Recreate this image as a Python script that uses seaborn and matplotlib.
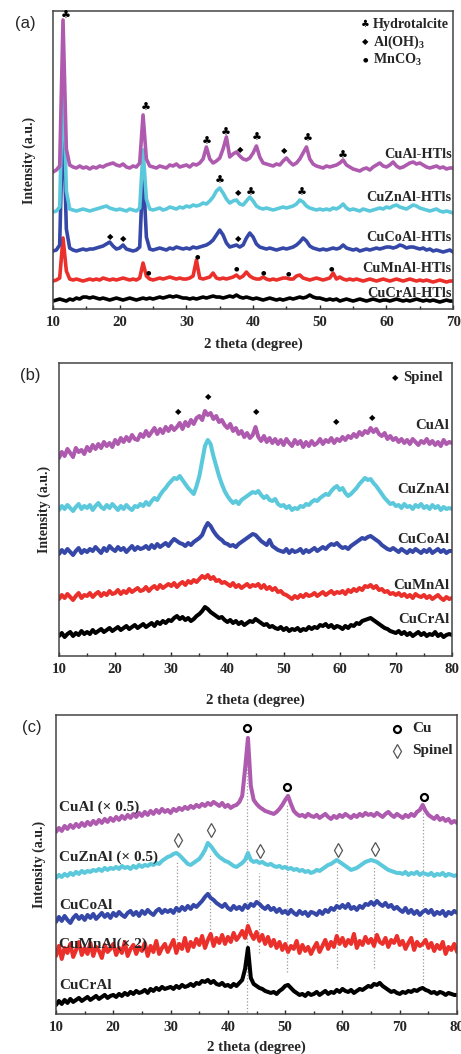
import numpy as np
import seaborn as sns
import matplotlib.pyplot as plt

# heights are in arbitrary intensity units (offset-stacked patterns)
two_theta_a = np.arange(10, 70.01, 0.5)
two_theta_bc = np.arange(10, 80.01, 0.5)

# ---- (a) hydrotalcite-like precursors ----
cual_htls = [137, 139, 143, 289, 160, 144, 142, 141, 143, 141,
             142, 140, 142, 141, 143, 142, 144, 145, 146, 144,
             143, 145, 142, 141, 143, 142, 146, 194, 150, 143,
             142, 141, 143, 142, 141, 144, 143, 145, 142, 143,
             144, 142, 145, 144, 146, 150, 162, 150, 146, 148,
             151, 160, 172, 152, 155, 157, 153, 150, 149, 151,
             156, 163, 152, 146, 145, 144, 143, 145, 144, 148,
             151, 147, 144, 146, 150, 156, 162, 150, 145, 143,
             142, 141, 143, 142, 143, 144, 146, 149, 144, 142,
             140, 139, 138, 140, 141, 139, 142, 144, 146, 143,
             142, 144, 147, 143, 141, 142, 144, 146, 147, 145,
             146, 144, 142, 141, 142, 143, 141, 142, 140, 141,
             141]
cuznal_htls = [97, 98, 102, 240, 118, 100, 99, 98, 99, 100,
               99, 98, 99, 100, 101, 102, 103, 101, 100, 99,
               100, 99, 98, 100, 99, 98, 101, 159, 110, 100,
               99, 100, 101, 99, 100, 102, 101, 100, 102, 101,
               103, 102, 104, 103, 104, 106, 105, 108, 112, 118,
               121, 116, 110, 106, 108, 109, 105, 104, 108, 112,
               108, 103, 101, 100, 101, 100, 99, 100, 101, 102,
               101, 102, 103, 105, 109, 107, 103, 101, 100, 99,
               100, 99, 100, 99, 101, 100, 102, 105, 101, 99,
               100, 99, 98, 100, 99, 98, 99, 100, 101, 100,
               102, 101, 103, 104, 102, 101, 100, 102, 104, 103,
               101, 100, 99, 98, 99, 100, 98, 97, 98, 97,
               96]
cucoal_htls = [58, 59, 64, 200, 80, 61, 59, 58, 59, 60,
               59, 60, 60, 61, 62, 63, 65, 67, 63, 60,
               61, 64, 60, 59, 58, 59, 62, 140, 72, 60,
               59, 60, 61, 60, 59, 61, 60, 62, 61, 60,
               61, 60, 62, 61, 62, 63, 64, 66, 69, 74,
               79, 74, 66, 62, 63, 64, 62, 64, 71, 76,
               72, 65, 62, 61, 60, 61, 60, 59, 60, 61,
               60, 61, 62, 64, 67, 71, 68, 63, 61, 60,
               59, 60, 59, 60, 61, 60, 61, 64, 61, 60,
               59, 60, 58, 59, 60, 59, 60, 61, 60, 61,
               62, 62, 61, 62, 64, 63, 61, 62, 62, 61,
               60, 61, 59, 60, 58, 59, 58, 57, 58, 59,
               57]
cumnal_htls = [28, 29, 31, 71, 38, 30, 29, 30, 29, 28,
               29, 30, 29, 30, 29, 31, 30, 29, 30, 29,
               30, 31, 30, 29, 30, 29, 31, 46, 33, 30,
               29, 30, 31, 30, 31, 32, 31, 30, 31, 30,
               30, 31, 33, 49, 31, 30, 31, 32, 36, 31,
               30, 31, 30, 31, 32, 34, 31, 33, 37, 33,
               31, 30, 30, 32, 30, 29, 30, 29, 30, 31,
               31, 30, 30, 33, 34, 31, 30, 29, 30, 31,
               30, 29, 30, 31, 36, 30, 32, 30, 29, 30,
               29, 30, 29, 28, 29, 30, 29, 28, 29, 30,
               29, 28, 29, 30, 29, 28, 29, 30, 29, 28,
               29, 28, 29, 28, 27, 28, 29, 28, 27, 28,
               28]
cucral_htls = [8, 9, 10, 9, 8, 10, 9, 11, 10, 12,
               12, 11, 12, 11, 10, 11, 10, 9, 10, 11,
               10, 9, 10, 11, 10, 9, 10, 11, 10, 11,
               10, 11, 12, 11, 12, 13, 12, 13, 12, 11,
               11, 10, 11, 10, 11, 12, 11, 12, 13, 12,
               12, 11, 12, 13, 12, 14, 12, 11, 12, 11,
               10, 11, 10, 9, 10, 11, 10, 9, 10, 9,
               10, 11, 10, 11, 12, 11, 12, 14, 12, 11,
               11, 10, 9, 10, 9, 10, 8, 9, 10, 9,
               8, 9, 10, 9, 8, 9, 10, 9, 8, 9,
               9, 8, 9, 10, 9, 8, 9, 8, 9, 10,
               9, 8, 9, 8, 9, 8, 7, 8, 9, 8,
               8]

# ---- (b) calcined oxides ----
cual_b = [198, 204, 200, 207, 203, 199, 208, 204, 206, 202,
          209, 205, 211, 207, 212, 208, 214, 210, 213, 209,
          216, 212, 218, 214, 219, 215, 221, 217, 216, 222,
          219, 225, 220, 224, 228, 222, 227, 223, 229, 225,
          230, 226, 229, 233, 227, 234, 230, 236, 232, 238,
          240, 236, 245, 241, 243, 237, 240, 234, 236, 231,
          228, 232, 225, 228, 222, 225, 219, 223, 218, 221,
          229, 219, 215, 220, 214, 218, 213, 217, 212, 216,
          211, 217, 213, 210, 216, 212, 215, 209, 214, 210,
          215, 211, 213, 217, 212, 216, 214, 218, 213, 217,
          215, 219, 216, 220, 218, 222, 219, 224, 221, 225,
          223, 228, 224, 227, 222, 220, 223, 217, 220, 216,
          218, 214, 217, 213, 216, 212, 217, 214, 211, 215,
          213, 217, 212, 215, 211, 214, 210, 216, 212, 214,
          213]
cuznal_b = [146, 150, 147, 151, 148, 145, 149, 152, 147, 150,
            148, 151, 146, 150, 153, 149, 147, 151, 148, 152,
            149, 146, 150, 147, 151, 148, 146, 150, 149, 152,
            150, 154, 151, 155, 158, 156, 161, 165, 168, 172,
            175, 178, 177, 180, 176, 172, 168, 165, 162, 170,
            180, 195, 210, 216, 212, 200, 190, 180, 172, 165,
            160, 156, 153, 155, 152, 156, 158, 160, 162, 164,
            163, 165, 161, 158, 160, 156, 155, 157, 152, 150,
            151, 148, 150, 146, 148, 147, 150, 149, 152, 151,
            154, 156, 155, 158, 160, 162, 161, 165, 168, 170,
            166, 168, 163, 160, 162, 165, 168, 172, 175, 178,
            176, 177, 173, 170, 166, 162, 158, 155, 152, 153,
            150, 151, 148, 152, 149, 150, 147, 151, 149, 152,
            148, 150, 147, 151, 148, 150, 146, 149, 147, 148,
            147]
cucoal_b = [102, 106, 103, 107, 104, 101, 105, 108, 103, 106,
            104, 107, 105, 109, 106, 103, 108, 105, 110, 107,
            105, 109, 106, 108, 104, 107, 110, 106, 109, 107,
            108, 110, 107, 111, 108, 112, 109, 111, 113, 110,
            114, 117, 115, 113, 112, 110, 113, 111, 114, 116,
            118, 121, 128, 133, 130, 125, 121, 118, 116, 113,
            112, 110, 111, 109, 112, 114, 116, 118, 120, 122,
            121, 118, 115, 113, 111, 116, 110, 108, 106, 105,
            104, 107, 103, 106, 104, 105, 107, 103, 106, 104,
            106, 108, 105, 107, 109, 107, 110, 112, 111, 113,
            110, 108, 109, 107, 110, 112, 114, 116, 118, 117,
            119, 120, 118, 116, 114, 111, 109, 107, 106, 108,
            106, 104, 107, 105, 103, 106, 104, 107, 105, 103,
            106, 104, 107, 103, 105, 107, 104, 106, 103, 105,
            105]
cumnal_b = [57, 61, 58, 62, 59, 56, 60, 63, 58, 61,
            60, 63, 59, 62, 64, 60, 63, 61, 65, 62,
            63, 66, 62, 65, 63, 67, 64, 66, 68, 65,
            66, 69, 65, 68, 70, 67, 71, 68, 70, 72,
            70, 73, 69, 72, 74, 71, 75, 73, 76, 74,
            77, 80, 78, 81, 77, 79, 75, 76, 73, 74,
            72, 70, 73, 69, 71, 68, 70, 72, 69, 71,
            70, 72, 68, 71, 67, 69, 66, 68, 64, 65,
            62, 61, 59, 57, 60, 58, 61, 59, 62, 60,
            61, 63, 60, 62, 64, 61, 63, 65, 62, 64,
            63, 65, 62, 66, 64, 67, 65, 68, 66, 70,
            69, 71, 68, 70, 66, 67, 64, 65, 62, 63,
            61, 63, 60, 62, 59, 61, 58, 62, 60, 59,
            61, 58, 60, 57, 59, 61, 58, 56, 59, 57,
            58]
cucral_b = [20, 23, 19, 22, 24, 20, 23, 21, 25, 22,
            24, 22, 26, 23, 25, 27, 24, 26, 28, 25,
            27, 29, 26, 28, 30, 27, 29, 31, 28, 30,
            32, 29, 31, 33, 30, 34, 32, 35, 33, 36,
            35, 38, 40, 37, 39, 36, 38, 35, 37, 40,
            42, 45, 49, 47, 44, 42, 40, 38, 39, 36,
            34, 36, 33, 35, 32, 34, 31, 33, 35, 34,
            37, 35, 33, 31, 32, 29, 30, 28, 27, 29,
            26, 28, 25, 27, 26, 28, 25, 27, 26, 29,
            27, 29, 28, 31, 30, 32, 29, 31, 28, 30,
            29, 27, 30, 28, 31, 30, 33, 32, 35, 36,
            37, 38, 36, 34, 32, 30, 28, 27, 25, 24,
            23, 25, 22, 24, 21, 23, 20, 22, 24, 21,
            23, 20, 22, 21, 24, 20, 22, 19, 21, 22,
            21]

# ---- (c) reduced samples ----
cual_c = [182, 186, 183, 188, 185, 189, 186, 190, 187, 191,
          188, 192, 189, 193, 190, 194, 191, 195, 192, 196,
          193, 197, 194, 198, 195, 199, 196, 200, 197, 201,
          198, 202, 199, 203, 200, 204, 201, 205, 202, 204,
          201, 205, 203, 206, 204, 207, 205, 208, 206, 209,
          207, 210, 208, 211, 209, 212, 210, 208, 211, 207,
          209, 206, 208, 209, 212, 218, 245, 276, 228, 214,
          210, 207, 205, 203, 202, 201, 200, 202, 205, 209,
          214, 218, 210, 203, 200, 198, 199, 197, 200, 198,
          197, 199, 196, 198, 200, 197, 195, 198, 196, 199,
          197, 200, 198, 196, 199, 197, 200, 198, 201, 199,
          200, 198, 201, 199, 197, 200, 202, 199, 197, 200,
          198, 196, 199, 197, 200, 198, 202, 204, 209, 203,
          199, 197, 195, 198, 194, 196, 193, 195, 191, 193,
          191]
cuznal_c = [136, 139, 137, 140, 138, 141, 139, 142, 140, 143,
            141, 143, 142, 144, 143, 145, 143, 146, 144, 146,
            145, 147, 145, 148, 146, 147, 145, 148, 146, 149,
            147, 149, 148, 150, 149, 151, 150, 153, 155, 157,
            158, 160, 161, 159, 156, 153, 150, 149, 151, 153,
            155, 159, 164, 171, 168, 164, 160, 157, 155, 153,
            152, 150, 148, 147, 149, 151, 154, 161, 154, 152,
            153, 151, 152, 150, 149, 150, 148, 147, 148, 146,
            147, 145, 146, 144, 145, 143, 144, 142, 143, 141,
            142, 144, 143, 145, 147, 149, 150, 152, 154, 152,
            150, 148, 146, 144, 145, 146, 148, 150, 152, 153,
            154, 153, 152, 150, 148, 146, 144, 143, 142, 141,
            141, 140, 142, 139, 141, 140, 142, 139, 141, 140,
            139, 141, 138, 140, 139, 141, 138, 140, 139, 138,
            139]
cucoal_c = [92, 97, 93, 98, 94, 91, 96, 99, 95, 98,
            94, 99, 96, 100, 95, 98, 101, 97, 100, 96,
            101, 98, 102, 99, 97, 101, 103, 99, 102, 98,
            103, 100, 104, 101, 99, 103, 105, 101, 104, 102,
            104, 101, 106, 103, 107, 104, 108, 105, 109, 107,
            110, 113, 117, 120, 116, 114, 111, 109, 107, 110,
            106, 104, 108, 105, 107, 104, 109, 106, 110, 108,
            112, 110, 107, 105, 108, 104, 106, 102, 105, 101,
            103, 100, 104, 101, 99, 103, 100, 102, 98, 102,
            101, 99, 103, 100, 104, 102, 106, 104, 108, 106,
            109, 106, 110, 105, 107, 104, 108, 106, 110, 109,
            112, 109, 113, 110, 108, 111, 107, 109, 105, 107,
            104, 102, 106, 101, 104, 100, 103, 99, 102, 104,
            101, 104, 99, 102, 100, 103, 98, 102, 100, 103,
            101]
cumnal_c = [58, 68, 55, 66, 61, 70, 57, 64, 72, 59,
            66, 60, 71, 58, 67, 63, 56, 69, 62, 65,
            70, 59, 66, 61, 72, 58, 65, 69, 60, 67,
            63, 71, 58, 68, 62, 73, 60, 66, 70, 62,
            68, 74, 61, 70, 65, 76, 63, 72, 67, 75,
            69, 78, 66, 74, 80, 68, 76, 71, 79, 70,
            77, 72, 81, 74, 78, 83, 76, 88, 80, 75,
            82, 73, 79, 70, 77, 68, 74, 66, 72, 64,
            70, 62, 68, 65, 73, 61, 69, 63, 67, 60,
            66, 71, 62, 68, 74, 65, 72, 67, 78, 70,
            76, 68, 74, 70, 80, 66, 73, 69, 77, 71,
            75, 68, 79, 72, 70, 76, 67, 74, 71, 78,
            69, 73, 65, 71, 76, 64, 72, 68, 70, 74,
            66, 71, 63, 69, 65, 72, 60, 67, 64, 70,
            62]
cucral_c = [9, 13, 10, 14, 11, 15, 12, 14, 16, 13,
            15, 17, 14, 16, 18, 15, 17, 19, 16, 18,
            19, 17, 20, 18, 21, 19, 22, 20, 23, 21,
            22, 24, 21, 25, 23, 26, 24, 27, 25, 26,
            27, 25, 28, 26, 29, 27, 28, 30, 28, 31,
            30, 33, 32, 34, 31, 33, 30, 29, 31, 28,
            29, 27, 30, 28, 31, 34, 45, 66, 36, 30,
            28, 26, 25, 23, 22, 21, 22, 20, 23, 25,
            28, 29, 26, 23, 21, 19, 20, 18, 21, 19,
            20, 22, 19, 21, 23, 20, 22, 21, 24, 22,
            25, 23, 22, 24, 21, 23, 25, 24, 26, 28,
            27, 30, 29, 31, 28, 26, 24, 22, 23, 21,
            20, 22, 21, 23, 22, 24, 23, 25, 26, 24,
            23, 21, 22, 20, 22, 21, 19, 21, 20, 19,
            19]

colors = ['black', '#EB2F2A', '#3548A8', '#5BC8DB', '#AE5AAE']

labels_a = ['CuCrAl-HTls', 'CuMnAl-HTls', 'CuCoAl-HTls', 'CuZnAl-HTls', 'CuAl-HTls']
label_y_a = [16, 41, 72, 112, 154]
labels_b = ['CuCrAl', 'CuMnAl', 'CuCoAl', 'CuZnAl', 'CuAl']
label_y_b = [37, 71, 117, 167, 231]
labels_c = ['CuCrAl', 'CuMnAl(× 2)', 'CuCoAl', 'CuZnAl (× 0.5)', 'CuAl (× 0.5)']
label_y_c = [28, 70, 108, 157, 207]

# phase markers (2theta, height)
hydro_x = [11.9, 23.9, 33.0, 35.9, 40.5, 48.2, 53.4, 35.0, 39.7, 47.3]
hydro_y = [293, 201, 167, 176, 171, 170, 153, 128, 116, 116]
aloh_x = [38.1, 44.6, 37.8, 18.6, 20.5, 37.7]
aloh_y = [159, 158, 116, 72, 71, 71]
mnco3_x = [24.3, 31.6, 37.5, 41.5, 45.3, 51.8]
mnco3_y = [36, 52, 40, 36, 35, 40]
spinel_b_x = [31.3, 36.6, 45.2, 59.3, 65.8]
spinel_b_y = [244, 259, 244, 234, 238]
cu_x = [43.3, 50.4, 74.2]
cu_y = [286, 227, 217]
spinel_c_x = [31.3, 37.0, 45.6, 59.2, 65.6]
spinel_c_y = [174, 184, 163, 164, 165]
guide_x = [31.2, 36.9, 43.3, 45.4, 50.4, 59.1, 65.5, 74.1]
guide_top = [154, 161, 276, 141, 209, 147, 147, 206]
guide_bottom = [71, 78, 2, 61, 42, 46, 46, 31]

sns.set_style('ticks')
plt.rcParams['font.family'] = ['Liberation Serif', 'DejaVu Sans']
plt.rcParams['font.weight'] = 'bold'
plt.rcParams['mathtext.fontset'] = 'custom'
plt.rcParams['mathtext.rm'] = 'Liberation Serif:bold'
plt.rcParams['mathtext.bf'] = 'Liberation Serif:bold'

fig = plt.figure(figsize=(4.61, 10.54), dpi=100)
ax_a = fig.add_axes([0.115, 0.7068, 0.868, 0.2828])
ax_b = fig.add_axes([0.128, 0.3776, 0.8525, 0.2780])
ax_c = fig.add_axes([0.1215, 0.0380, 0.870, 0.2837])

sym = dict(family='DejaVu Sans', ha='center', va='center', color='black')

# (a)
for vals, col in zip([cucral_htls, cumnal_htls, cucoal_htls, cuznal_htls, cual_htls], colors):
    sns.lineplot(x=two_theta_a, y=vals, color=col, lw=2.6, ax=ax_a)
for lab, yy in zip(labels_a, label_y_a):
    ax_a.text(69.8, yy, lab, ha='right', va='center', fontsize=10.3, fontweight='bold')
for xx, yy in zip(hydro_x, hydro_y):
    ax_a.text(xx, yy, '♣', fontsize=8, **sym)
for xx, yy in zip(aloh_x, aloh_y):
    ax_a.text(xx, yy, '◆', fontsize=6, **sym)
for xx, yy in zip(mnco3_x, mnco3_y):
    ax_a.text(xx, yy, '●', fontsize=4.5, **sym)
ax_a.text(0.78, 0.956, '♣', fontsize=7, transform=ax_a.transAxes, **sym)
ax_a.text(0.78, 0.896, '◆', fontsize=6, transform=ax_a.transAxes, **sym)
ax_a.text(0.78, 0.836, '●', fontsize=4.5, transform=ax_a.transAxes, **sym)
ax_a.text(0.80, 0.956, 'Hydrotalcite', transform=ax_a.transAxes, va='center', fontsize=10.2)
ax_a.text(0.80, 0.896, r'Al(OH)$_\mathbf{3}$', transform=ax_a.transAxes, va='center', fontsize=10.2)
ax_a.text(0.80, 0.836, r'MnCO$_\mathbf{3}$', transform=ax_a.transAxes, va='center', fontsize=10.2)
ax_a.set_xlim(10, 70)
ax_a.set_ylim(0, 298)

# (b)
for vals, col in zip([cucral_b, cumnal_b, cucoal_b, cuznal_b, cual_b], colors):
    sns.lineplot(x=two_theta_bc, y=vals, color=col, lw=2.9, ax=ax_b)
for lab, yy in zip(labels_b, label_y_b):
    ax_b.text(79.5, yy, lab, ha='right', va='center', fontsize=10.7, fontweight='bold')
for xx, yy in zip(spinel_b_x, spinel_b_y):
    ax_b.text(xx, yy, '◆', fontsize=6, **sym)
ax_b.text(0.855, 0.949, '◆', fontsize=6, transform=ax_b.transAxes, **sym)
ax_b.text(0.875, 0.949, 'Spinel', transform=ax_b.transAxes, va='center', fontsize=10.7)
ax_b.set_xlim(10, 80)
ax_b.set_ylim(0, 293)

# (c)
ax_c.vlines(guide_x, guide_bottom, guide_top, colors='#999999', linestyles=':', lw=0.9)
for vals, col in zip([cucral_c, cumnal_c, cucoal_c, cuznal_c, cual_c], colors):
    sns.lineplot(x=two_theta_bc, y=vals, color=col, lw=2.9, ax=ax_c)
for lab, yy in zip(labels_c, label_y_c):
    ax_c.text(10.5, yy, lab, ha='left', va='center', fontsize=11, fontweight='bold')
ax_c.plot(cu_x, cu_y, ls='none', marker='o', ms=5, mfc='none', mec='black', mew=1.6)
ax_c.plot(spinel_c_x, spinel_c_y, ls='none', marker='d', ms=7, mfc='none', mec='#555555', mew=0.9)
ax_c.plot([0.85], [0.953], ls='none', marker='o', ms=5, mfc='none', mec='black', mew=1.6,
          transform=ax_c.transAxes)
ax_c.plot([0.85], [0.880], ls='none', marker='d', ms=7, mfc='none', mec='#555555', mew=0.9,
          transform=ax_c.transAxes)
ax_c.text(0.888, 0.953, 'Cu', transform=ax_c.transAxes, va='center', fontsize=11)
ax_c.text(0.888, 0.880, 'Spinel', transform=ax_c.transAxes, va='center', fontsize=11)
ax_c.set_xlim(10, 80)
ax_c.set_ylim(0, 299)

panel_setup = [(ax_a, '(a)', 0.054, -0.0425, 6), (ax_b, '(b)', 0.065, -0.02, 13),
               (ax_c, '(c)', 0.07, -0.025, 5)]
for ax, letter, lx, ylx, pad in panel_setup:
    ax.set_xticks(np.arange(ax.get_xlim()[0], ax.get_xlim()[1] + 0.1, 10))
    ax.set_xticks(np.arange(15, ax.get_xlim()[1], 10), minor=True)
    ax.set_yticks([])
    ax.tick_params(axis='x', which='both', direction='in', length=3, width=1, labelsize=10.7, pad=5)
    ax.tick_params(axis='x', which='minor', length=2)
    for lbl in ax.get_xticklabels():
        lbl.set_fontweight('bold')
    for sp in ax.spines.values():
        sp.set_visible(True)
        sp.set_color('#444444')
        sp.set_linewidth(1.1)
    ax.set_xlabel('2 theta (degree)', fontsize=10.7, fontweight='bold', labelpad=pad)
    ax.set_ylabel('Intensity (a.u.)', fontsize=10, fontweight='bold')
    ax.yaxis.set_label_coords(ylx, 0.5)
    fig.text(lx, ax.get_position().y1 - 0.012, letter, family='Liberation Sans',
             fontweight='normal', fontsize=12, ha='center', va='center')

fig.savefig('out.png', dpi=100)
